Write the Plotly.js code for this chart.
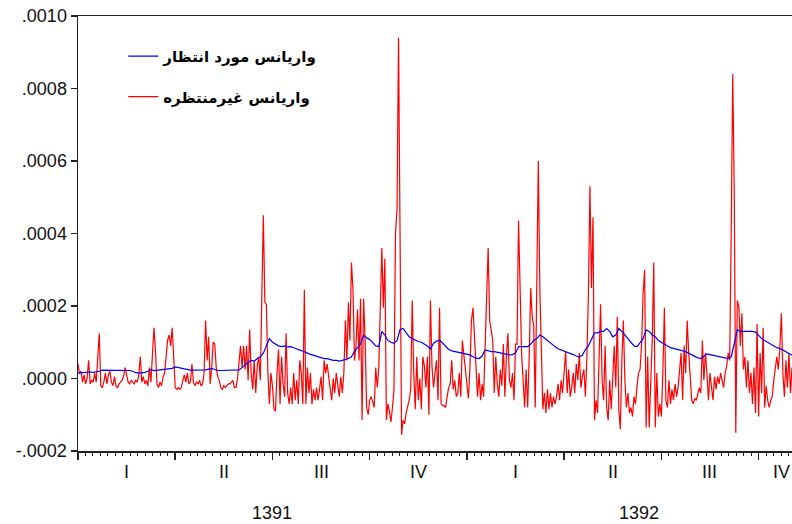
<!DOCTYPE html>
<html>
<head>
<meta charset="utf-8">
<script src="https://cdn.plot.ly/plotly-3.0.1.min.js"></script>
<style>html,body{margin:0;padding:0;background:#fff;}#chart{width:792px;height:524px;}</style>
</head>
<body>
<div id="chart"></div>
<script>
// Values in units of 1e-4 (daily)
const unexpectedVar = [
0.4,0.15,0.2,-0.1,0.1,-0.15,0.0,0.5,-0.15,-0.05,
-0.1,0.15,-0.1,0.55,1.25,-0.2,-0.25,-0.1,0.15,-0.15,
0.1,0.2,-0.1,-0.2,0.05,-0.2,-0.25,-0.15,-0.1,-0.05,
0.05,0.3,0.1,-0.1,-0.15,-0.05,-0.1,-0.15,-0.05,-0.1,
0.1,0.6,-0.1,0.05,-0.15,-0.05,-0.2,0.3,-0.1,0.7,
1.4,0.75,-0.15,-0.25,-0.1,-0.2,0.05,0.15,0.6,1.05,
1.2,0.9,1.4,0.7,-0.25,-0.3,-0.25,-0.3,-0.25,-0.05,
0.1,-0.1,0.15,-0.15,-0.1,0.4,-0.1,-0.2,-0.1,-0.15,
-0.05,-0.2,-0.15,0.15,1.6,0.5,1.15,-0.15,0.3,1.0,
0.95,0.3,0.05,-0.05,-0.25,-0.3,-0.2,-0.25,-0.2,-0.15,
-0.15,-0.1,-0.05,-0.25,-0.25,0.0,0.5,0.9,0.3,0.9,
0.25,0.9,-0.05,1.35,0.15,-0.3,0.5,-0.4,0.35,0.6,
-0.05,2.55,4.5,2.1,2.05,0.15,-0.7,0.15,-0.2,-0.85,
-0.9,0.15,0.8,-0.7,0.6,-0.15,-0.5,1.25,-0.4,-0.7,
-0.25,-0.7,0.15,-0.6,-0.05,-0.7,0.5,0.15,-0.7,2.45,
-0.7,0.3,-0.4,0.15,-0.7,-0.3,-0.6,-0.25,-0.6,-0.3,
0.05,-0.6,0.5,0.15,0.4,0.05,-0.25,-0.6,0.0,-0.4,
0.15,-0.25,-0.5,0.05,-0.4,0.15,1.6,0.5,2.1,1.05,
3.2,2.45,0.5,0.9,1.9,0.5,2.2,-1.15,2.2,1.05,
-0.8,-1.0,-0.6,-0.5,-0.7,-0.8,0.3,-0.25,0.3,2.05,
3.6,1.95,3.3,-1.15,-0.7,-0.9,-1.2,-0.8,-0.3,4.0,
4.65,9.4,3.9,-1.55,-1.15,-1.25,-0.95,-0.8,-0.6,-0.3,
2.15,0.15,-0.85,0.6,-0.6,0.0,-0.85,0.6,0.35,-0.25,
0.6,-1.0,2.15,0.35,-0.25,
0.15,0.5,-0.6,1.95,-0.7,-0.75,-0.75,-0.8,-0.5,-0.25,
-0.15,0.5,-0.3,-0.05,-0.5,-0.4,0.15,-0.5,1.05,0.6,
0.15,-0.3,-0.55,0.3,1.6,1.95,1.05,0.15,-0.5,0.15,
-0.6,-0.15,-0.5,0.9,2.55,3.6,1.6,1.35,1.05,-0.4,
0.6,-0.15,-0.5,0.25,-0.2,0.95,-0.5,0.6,1.25,-0.05,
-0.25,0.15,-0.6,0.95,0.95,4.35,2.05,0.7,-0.05,-0.8,
0.25,-0.8,0.6,2.5,1.7,1.45,-0.8,3.55,6.0,2.5,
0.6,-0.85,-0.4,-0.95,-0.3,-0.85,-0.4,-0.8,-0.5,-0.7,
-0.5,-0.15,-0.6,-0.05,-0.4,0.15,0.75,-0.4,0.25,-0.5,
-0.25,0.15,-0.4,0.4,-0.05,0.7,-0.25,0.05,0.25,-0.5,
0.6,2.35,5.3,2.5,4.45,-1.15,-0.6,-0.95,0.7,2.05,
-0.05,-0.6,0.9,-0.8,-1.15,-0.05,-0.85,0.15,0.9,-0.25,
1.7,-0.85,-1.4,0.5,1.6,-0.05,-0.8,-0.4,-0.95,-0.8,
-1.05,-0.5,-0.7,-0.2,0.15,0.25,0.95,2.35,3.0,-1.35,
0.6,-1.35,-0.05,1.05,3.2,-1.35,0.15,-1.05,-0.7,-1.05,
0.15,1.95,-0.6,-0.8,-0.05,-0.7,-0.3,-0.6,-0.15,-0.5,
-0.25,0.15,0.7,-0.6,0.9,0.15,1.6,0.7,0.15,-0.6,
-0.7,-0.55,-0.6,-0.4,-0.25,-0.4,1.05,-0.05,0.7,0.15,
-0.6,0.15,-0.25,-0.6,0.05,-0.3,0.05,-0.15,0.15,-0.05,
-0.25,0.15,0.35,0.7,0.5,4.05,8.4,5.1,-1.5,2.15,
2.0,0.9,1.8,0.25,0.6,-0.25,0.5,-0.4,0.15,-0.7,
0.3,-0.95,1.5,-1.05,0.7,-0.4,1.4,-0.8,-0.2,-0.6,
-0.8,-0.6,-0.5,-0.05,0.3,0.6,0.25,0.85,1.8,0.15,
-0.5,0.5,-0.25,0.7,-0.4,0.3
];
// Values in units of 1e-4 (one value every second trading day)
const expectedVar = [
0.15,0.16,0.17,0.18,0.18,0.17,0.18,0.2,
0.23,0.23,0.22,0.23,0.24,0.23,0.22,0.23,0.23,0.22,0.2,
0.16,0.15,0.15,0.17,0.2,
0.25,0.22,0.23,0.22,0.23,0.24,0.26,0.28,
0.32,0.3,0.27,0.26,
0.24,0.23,0.23,0.23,0.23,0.23,0.24,0.26,0.28,0.25,
0.22,0.22,0.22,0.22,0.22,0.22,0.22,
0.24,0.3,0.38,
0.45,0.5,0.48,0.55,0.6,
0.7,0.9,1.1,
1.0,0.95,0.9,0.88,0.9,0.87,0.88,
0.85,0.82,0.8,0.76,0.72,0.68,0.65,
0.62,0.6,0.57,0.55,0.55,0.52,0.5,0.5,
0.48,0.5,0.52,0.55,0.6,
0.75,0.85,0.95,1.2,
1.12,1.08,1.0,0.9,
0.88,1.3,1.2,1.05,1.0,
0.97,1.05,1.35,1.38,
1.25,1.15,1.1,1.05,1.02,1.0,
0.95,0.9,0.82,0.97,1.03,
1.06,0.98,0.9,0.8,0.76,
0.74,0.74,0.72,0.7,0.66,0.65,0.6,
0.56,0.55,0.62,0.79,
0.76,0.74,0.74,0.72,0.7,0.68,0.68,0.65,0.66,
0.7,0.88,0.88,0.86,0.88,0.95,
1.05,1.1,1.2,1.15,
1.08,1.0,0.95,0.88,0.82,0.79,0.76,
0.74,0.7,0.66,0.62,0.6,0.64,0.8,
0.9,1.1,1.26,1.26,
1.3,1.3,1.38,1.3,
1.15,1.2,1.38,1.3,1.2,
1.1,1.0,0.9,0.88,1.0,
1.1,1.34,1.3,1.2,1.15,
1.05,1.0,0.95,0.9,0.85,
0.83,0.8,0.78,0.76,0.74,0.7,0.65,
0.6,0.57,0.55,0.62,
0.68,0.66,0.64,0.62,0.6,0.58,0.56,
0.55,0.6,1.0,
1.34,1.3,1.3,1.3,1.32,
1.3,1.28,1.2,1.1,1.05,1.0,
0.95,0.9,0.85,0.83,0.78,0.74,0.7,0.65,0.6
];
const seriesNames = ["واریانس مورد انتظار", "واریانس غیرمنتظره"];
const quarterLabels = ["I","II","III","IV","I","II","III","IV"];
const yearLabels = ["1391","1392"];
const yTickVals = [-0.0002,0,0.0002,0.0004,0.0006,0.0008,0.0010];
const yTickText = ["-.0002",".0000",".0002",".0004",".0006",".0008",".0010"];

const SCALE = 1e-4;
const PER_QUARTER = 64;
const quarterPos = [32,96,160,224,288,352,416,463];
const yearPos = [128,369];

const traces = [
  {y: unexpectedVar.map(v => v*SCALE), x0:0, dx:1, type:'scatter', mode:'lines', name: seriesNames[1],
   line:{color:'#ff0000', width:1.2}, legendgroup:'b', legendrank:2},
  {y: expectedVar.map(v => v*SCALE), x0:0, dx:2, type:'scatter', mode:'lines', name: seriesNames[0],
   line:{color:'#0000ff', width:1.2}, legendgroup:'a', legendrank:1}
];

const font = {family:'Liberation Sans, Arial, sans-serif', size:18, color:'#111'};
const annotations = [];
quarterLabels.forEach((t,k)=>annotations.push({text:t, x:quarterPos[k], xref:'x', y:0, yref:'paper',
  yshift:-21, yanchor:'middle', xanchor:'center', showarrow:false, font:font}));
yearLabels.forEach((t,k)=>annotations.push({text:t, x:yearPos[k], xref:'x', y:0, yref:'paper',
  yshift:-62, yanchor:'middle', xanchor:'center', showarrow:false, font:font}));

const layout = {
  width:792, height:524,
  margin:{l:78, r:0, t:16, b:73},
  paper_bgcolor:'#fff', plot_bgcolor:'#fff',
  showlegend:true,
  legend:{x:0.0634, y:0.945, xanchor:'left', yanchor:'top', bgcolor:'rgba(0,0,0,0)',
    traceorder:'grouped', tracegroupgap:18,
    font:{family:'DejaVu Sans, sans-serif', size:15, color:'#000', weight:'bold'}},
  xaxis:{range:[0,470], showgrid:false, zeroline:false, showline:true, mirror:true,
    linecolor:'#222', linewidth:1.5, tickmode:'linear', tick0:0, dtick:PER_QUARTER,
    ticks:'outside', ticklen:7, tickcolor:'#222', tickwidth:1.5, showticklabels:false,
    minor:{tick0:0, dtick:PER_QUARTER/13, ticks:'outside', ticklen:3, tickcolor:'#222', tickwidth:1}},
  yaxis:{range:[-0.0002,0.0010], showgrid:false, zeroline:false, showline:true,
    linecolor:'#222', linewidth:1.5, tickmode:'array', tickvals:yTickVals, ticktext:yTickText,
    ticks:'outside', ticklen:6, tickcolor:'#222', tickwidth:1.5, tickfont:font},
  annotations:annotations
};
Plotly.newPlot('chart', traces, layout, {displayModeBar:false, staticPlot:true});
</script>
</body>
</html>
